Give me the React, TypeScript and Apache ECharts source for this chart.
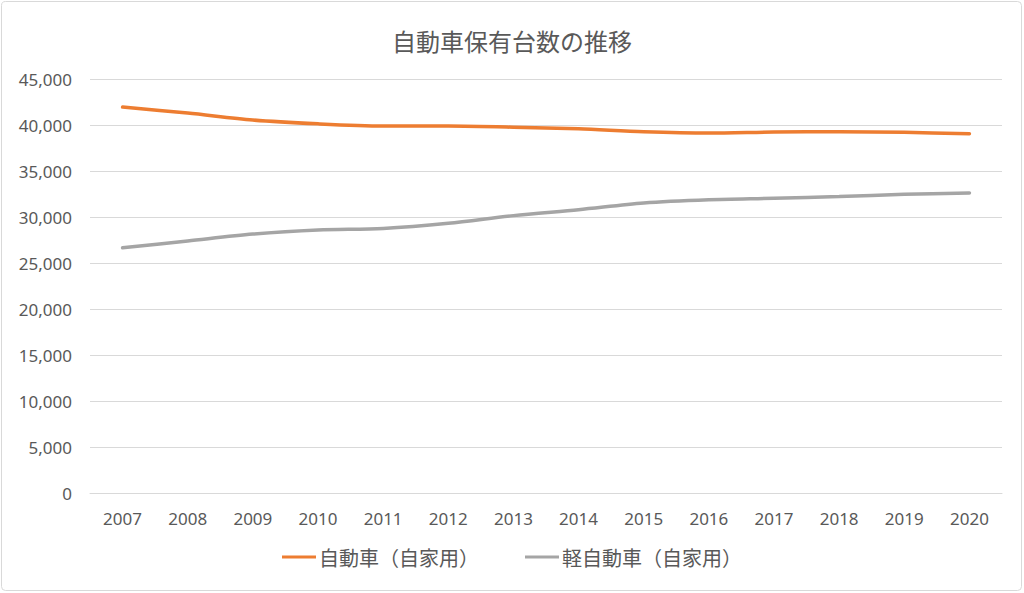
import React, { useEffect, useRef } from "react";
import * as echarts from "echarts";

const years = ["2007","2008","2009","2010","2011","2012","2013","2014","2015","2016","2017","2018","2019","2020"];
const carValues = [41950, 41300, 40540, 40130, 39890, 39880, 39760, 39580, 39270, 39130, 39240, 39270, 39200, 39040];
const keiValues = [26650, 27400, 28150, 28590, 28750, 29310, 30150, 30800, 31530, 31880, 32040, 32230, 32460, 32620];
const seriesNames = ["自動車（自家用）", "軽自動車（自家用）"];
const titleText = "自動車保有台数の推移";

export default function App() {
  const ref = useRef<HTMLDivElement>(null);
  useEffect(() => {
    const chart = echarts.init(ref.current!, null, { renderer: "svg" });
    const txt = "#595959";
    chart.setOption({
      animation: false,
      backgroundColor: "#fff",
      title: {
        text: titleText,
        left: "center",
        top: 23,
        textStyle: { fontFamily: "Noto Sans CJK JP", fontSize: 24, fontWeight: "normal", color: txt },
      },
      graphic: [
        {
          type: "rect",
          shape: { x: 1.5, y: 1.5, width: 1020, height: 589, r: 4 },
          style: { fill: "none", stroke: "#d9d9d9", lineWidth: 1 },
          silent: true,
        },
      ],
      legend: {
        bottom: 21,
        left: "center",
        icon: "rect",
        itemWidth: 34,
        itemHeight: 3,
        itemGap: 46,
        textStyle: { fontFamily: "Noto Sans CJK JP", fontSize: 20, color: txt, padding: [0, 0, 0, -2] },
        data: seriesNames,
      },
      grid: { left: 90, right: 22, top: 79, bottom: 100 },
      xAxis: {
        type: "category",
        data: years,
        boundaryGap: true,
        axisLine: { lineStyle: { color: "#d9d9d9" } },
        axisTick: { show: false },
        axisLabel: { fontFamily: "Noto Sans", fontSize: 17, color: txt, margin: 17 },
      },
      yAxis: {
        type: "value",
        min: 0,
        max: 45000,
        interval: 5000,
        axisLine: { show: false },
        axisTick: { show: false },
        splitLine: { lineStyle: { color: "#d9d9d9" } },
        axisLabel: {
          fontFamily: "Noto Sans",
          fontSize: 17,
          color: txt,
          margin: 18,
          formatter: (v: number) => v.toLocaleString("en-US"),
        },
      },
      series: [
        {
          name: seriesNames[0],
          type: "line",
          data: carValues,
          smooth: 0.3,
          showSymbol: false,
          lineStyle: { width: 3.5, color: "#ED7D31", cap: "round" },
          itemStyle: { color: "#ED7D31" },
        },
        {
          name: seriesNames[1],
          type: "line",
          data: keiValues,
          smooth: 0.3,
          showSymbol: false,
          lineStyle: { width: 3.5, color: "#A5A5A5", cap: "round" },
          itemStyle: { color: "#A5A5A5" },
        },
      ],
    });
    return () => chart.dispose();
  }, []);
  return <div ref={ref} style={{ position: "fixed", left: 0, top: 0, width: 1024, height: 593 }} />;
}
